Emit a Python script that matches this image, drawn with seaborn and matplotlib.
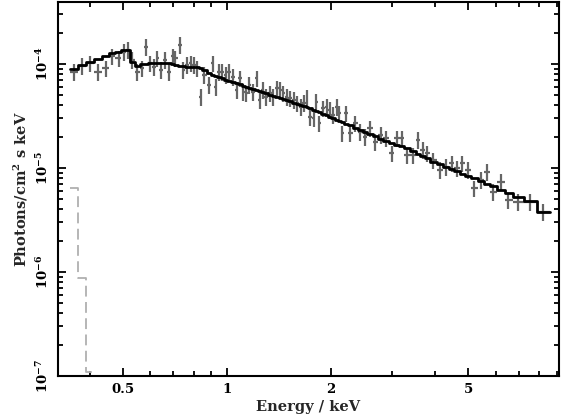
import numpy as np
import matplotlib
matplotlib.use("Agg")
import matplotlib.pyplot as plt
import matplotlib.ticker as mticker
import seaborn as sns

# Unfolded spectrum: bin centre energies (keV), data, model
energy = [0.361, 0.381, 0.402, 0.423, 0.446, 0.465, 0.486, 0.502, 0.517, 0.531,
          0.550, 0.568, 0.584, 0.598, 0.615, 0.629, 0.645, 0.660, 0.678, 0.698,
          0.709, 0.733, 0.747, 0.768, 0.785, 0.803, 0.820, 0.839, 0.858, 0.889,
          0.909, 0.927, 0.950, 0.969, 0.991, 1.015, 1.039, 1.067, 1.090, 1.115,
          1.135, 1.160, 1.187, 1.219, 1.246, 1.269, 1.297, 1.332, 1.361, 1.398,
          1.423, 1.455, 1.489, 1.522, 1.563, 1.598, 1.637, 1.671, 1.704, 1.739,
          1.786, 1.810, 1.850, 1.900, 1.944, 1.987, 2.023, 2.078, 2.113, 2.157,
          2.210, 2.270, 2.347, 2.427, 2.508, 2.594, 2.682, 2.786, 2.886, 2.997,
          3.098, 3.203, 3.312, 3.461, 3.578, 3.685, 3.784, 3.955, 4.136, 4.305,
          4.472, 4.623, 4.797, 4.973, 5.187, 5.435, 5.645, 5.899, 6.209, 6.520,
          6.967, 7.534, 8.233]

flux = [8.43e-5, 9.63e-5, 1.016e-4, 8.43e-5, 9.09e-5, 1.18e-4, 1.134e-4, 1.313e-4, 1.363e-4, 1.093e-4,
        8.43e-5, 9.09e-5, 1.467e-4, 1.016e-4, 9.42e-5, 1.134e-4, 8.76e-5, 1.093e-4, 8.43e-5, 1.18e-4,
        1.134e-4, 1.523e-4, 8.76e-5, 9.78e-5, 1.016e-4, 9.78e-5, 9.09e-5, 4.85e-5, 7.84e-5, 6.28e-5,
        1.016e-4, 6.05e-5, 8.43e-5, 8.43e-5, 7.84e-5, 8.43e-5, 7.55e-5, 5.62e-5, 7.29e-5, 5.42e-5,
        5.23e-5, 6.28e-5, 5.42e-5, 7.29e-5, 4.51e-5, 5.62e-5, 4.85e-5, 5.23e-5, 4.85e-5, 5.84e-5,
        5.62e-5, 5.23e-5, 4.85e-5, 4.68e-5, 4.51e-5, 4.19e-5, 3.86e-5, 4.22e-5, 4.71e-5, 3.09e-5,
        3.03e-5, 4.34e-5, 2.69e-5, 3.75e-5, 3.89e-5, 3.61e-5, 3.23e-5, 3.89e-5, 3.36e-5, 2.16e-5,
        3.36e-5, 2.16e-5, 2.69e-5, 2.23e-5, 2.00e-5, 2.41e-5, 1.79e-5, 2.08e-5, 1.93e-5, 1.38e-5,
        1.93e-5, 1.93e-5, 1.33e-5, 1.33e-5, 1.86e-5, 1.49e-5, 1.38e-5, 1.19e-5, 9.57e-6, 1.03e-5,
        1.11e-5, 9.93e-6, 1.11e-5, 9.57e-6, 6.38e-6, 7.67e-6, 9.21e-6, 5.92e-6, 7.38e-6, 4.92e-6,
        4.74e-6, 4.74e-6, 3.80e-6]

model = [8.89e-5, 9.78e-5, 1.038e-4, 1.110e-4, 1.194e-4, 1.267e-4, 1.313e-4, 1.348e-4, 1.348e-4, 1.052e-4,
         9.57e-5, 9.89e-5, 1.004e-4, 1.011e-4, 1.016e-4, 1.016e-4, 1.016e-4, 1.016e-4, 1.011e-4, 9.89e-5,
         9.78e-5, 9.57e-5, 9.50e-5, 9.44e-5, 9.40e-5, 9.36e-5, 9.25e-5, 9.15e-5, 8.76e-5, 8.14e-5,
         7.81e-5, 7.62e-5, 7.42e-5, 7.26e-5, 7.06e-5, 6.88e-5, 6.71e-5, 6.51e-5, 6.35e-5, 6.20e-5,
         6.06e-5, 5.92e-5, 5.78e-5, 5.60e-5, 5.46e-5, 5.36e-5, 5.22e-5, 5.07e-5, 4.95e-5, 4.80e-5,
         4.70e-5, 4.59e-5, 4.47e-5, 4.36e-5, 4.23e-5, 4.13e-5, 4.01e-5, 3.92e-5, 3.83e-5, 3.75e-5,
         3.61e-5, 3.54e-5, 3.43e-5, 3.31e-5, 3.20e-5, 3.10e-5, 3.02e-5, 2.91e-5, 2.84e-5, 2.76e-5,
         2.66e-5, 2.56e-5, 2.44e-5, 2.33e-5, 2.22e-5, 2.11e-5, 2.02e-5, 1.91e-5, 1.81e-5, 1.72e-5,
         1.68e-5, 1.62e-5, 1.54e-5, 1.45e-5, 1.37e-5, 1.30e-5, 1.24e-5, 1.15e-5, 1.08e-5, 1.02e-5,
         9.69e-6, 9.27e-6, 8.81e-6, 8.37e-6, 7.93e-6, 7.43e-6, 7.06e-6, 6.64e-6, 6.20e-6, 5.80e-6,
         5.30e-6, 4.76e-6, 3.80e-6]

# soft component, only non-zero in the first few bins
soft_comp = [6.4e-6, 8.8e-7, 1.1e-7, 1e-9]

flux_err_frac = 0.18

x_major = [0.5, 1, 2, 5]
x_minor = [0.4, 0.6, 0.7, 0.8, 0.9, 3, 4, 6, 7, 8, 9]
x_range = (0.3243, 9.14)
y_range = (1e-7, 3.94e-4)

sns.set_style("ticks")
plt.rcParams["font.family"] = ["DejaVu Serif"]
plt.rcParams["font.weight"] = "bold"
plt.rcParams["mathtext.fontset"] = "dejavuserif"
plt.rcParams["mathtext.default"] = "bf"

e = np.array(energy)
f = np.array(flux)
m = np.array(model)

# bin edges halfway (in log) between neighbouring channels
mid = np.sqrt(e[1:] * e[:-1])
edges = np.concatenate([[e[0] ** 2 / mid[0]], mid, [e[-1] ** 2 / mid[-1]]])
xerr = np.vstack([e - edges[:-1], edges[1:] - e])
yerr = np.vstack([f * flux_err_frac, f * flux_err_frac])

fig = plt.figure(figsize=(5.65, 4.2), dpi=100)
ax = fig.add_axes([0.1027, 0.1048, 0.8867, 0.8905])
ax.set_xscale("log")
ax.set_yscale("log")

ax.errorbar(e, f, xerr=xerr, yerr=yerr, fmt="none", ecolor="#666666",
            elinewidth=1.6, capsize=0, zorder=2)

step_x = np.repeat(edges, 2)[1:-1]
sns.lineplot(x=step_x, y=np.repeat(m, 2), sort=False, estimator=None,
             color="black", linewidth=2.0, ax=ax, zorder=3)

n_soft = len(soft_comp)
soft_x = np.repeat(edges[:n_soft + 1], 2)[1:-1]
sns.lineplot(x=soft_x, y=np.repeat(soft_comp, 2), sort=False, estimator=None,
             color="#b0b0b0", linewidth=1.3, linestyle=(0, (6, 3)), ax=ax, zorder=1)

ax.set_xlim(*x_range)
ax.set_ylim(*y_range)

ax.xaxis.set_major_locator(mticker.FixedLocator(x_major))
ax.xaxis.set_minor_locator(mticker.FixedLocator(x_minor))
ax.xaxis.set_major_formatter(mticker.FuncFormatter(lambda v, p: f"{v:g}"))
ax.xaxis.set_minor_formatter(mticker.NullFormatter())
ax.yaxis.set_major_locator(mticker.LogLocator(base=10, numticks=10))
ax.yaxis.set_minor_locator(mticker.LogLocator(base=10, subs=np.arange(2, 10), numticks=20))
ax.yaxis.set_major_formatter(mticker.FuncFormatter(
    lambda v, p: r"$10^{%d}$" % int(round(np.log10(v)))))
ax.yaxis.set_minor_formatter(mticker.NullFormatter())

ax.tick_params(which="both", direction="in", top=True, right=True, width=1.3,
               labelsize=9.5, colors="black")
ax.tick_params(which="major", length=6, pad=5)
ax.tick_params(which="minor", length=3.5)
for lab in ax.get_yticklabels():
    lab.set_rotation(90)
    lab.set_va("center")

for sp in ax.spines.values():
    sp.set_linewidth(1.5)
    sp.set_color("black")

ax.set_xlabel("Energy / keV", fontsize=10.5, fontweight="bold", labelpad=3)
ax.set_ylabel(r"Photons/cm$^2$ s keV", fontsize=10.5, fontweight="bold", labelpad=4)

fig.savefig("out.png", dpi=100)
